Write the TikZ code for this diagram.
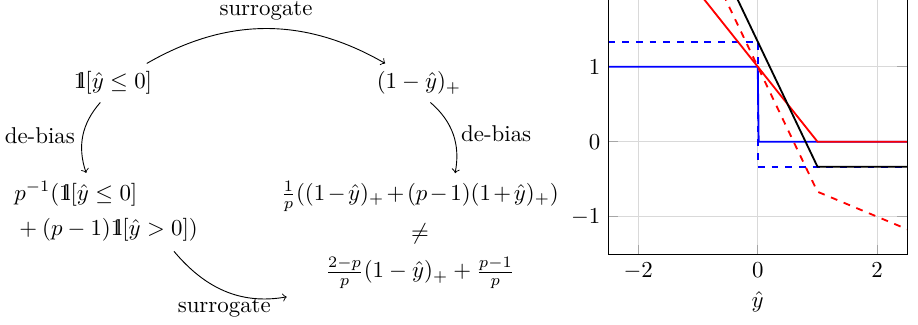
\documentclass[tikz,border=0pt]{standalone}
\usepackage{amsmath}
\usetikzlibrary{positioning}
\newcommand{\indic}{\mathrm{1}\mkern-5mu\mathrm{l}}
\tikzset{
  arr/.style={->, >=to, thin},
  gridline/.style={gray!30, thin},
  tickline/.style={gray!70, thin},
  loss/.style={thick},
}
\begin{document}
\begin{tikzpicture}
  \clip (0,0) rectangle (14.11,4.98);
  % the four losses
  \node (zo) at (1.737,3.705) {$\indic[\hat{y}\leq 0]$};
  \node (hinge) at (6.44,3.705) {$(1-\hat{y})_+$};
  \node (zodb) at (1.63,1.72)
    {$\begin{aligned}&p^{-1}(\indic[\hat{y}\leq 0]\\&+(p-1)\indic[\hat{y}>0])\end{aligned}$};
  \node (hingedb) at (6.455,1.368)
    {$\begin{gathered}
      \medmuskip=2mu \tfrac{1}{p}((1-\hat{y})_+ + (p-1)(1+\hat{y})_+)\\
      \neq\\
      \tfrac{2-p}{p}(1-\hat{y})_+ + \tfrac{p-1}{p}
    \end{gathered}$};
  \draw[arr] (zo) to[bend left=30] node[above]{surrogate} (hinge);
  \draw[arr] (zo) to[bend right=30] node[left]{de-bias} (zodb);
  \draw[arr] (hinge) to[bend left=30] node[right]{de-bias} (hingedb);
  \draw[arr] (zodb.-30) to[out=-50, in=190] node[below]{surrogate} ([xshift=6pt]hingedb.south west);
  % plot
  \begin{scope}[shift={(11.647,2.802)}, x=0.918cm, y=1.153cm]
    \foreach \x in {-2,0,2}
      \draw[gridline] (\x,-1.5) -- (\x,2.5);
    \foreach \y in {-1,0,1,2}
      \draw[gridline] (-2.5,\y) -- (2.5,\y);
    \foreach \x in {-2,0,2} {
      \draw[tickline] (\x,-1.5) -- ++(0,4.25pt);
      \draw[tickline] (\x,2.5) -- ++(0,-4.25pt);
      \node[below] (xt\x) at (\x,-1.5) {$\x$};
    }
    \foreach \y in {-1,0,1,2} {
      \draw[tickline] (-2.5,\y) -- ++(4.25pt,0);
      \draw[tickline] (2.5,\y) -- ++(-4.25pt,0);
      \node[left] (yt\y) at (-2.5,\y) {$\y$};
    }
    \begin{scope}
      \clip (-2.5,-1.5) rectangle (2.5,2.5);
      \draw[loss, blue] (-2.5,1) -- (0,1) -- (0.015,0) -- (2.5,0);
      \draw[loss, blue, dashed] (-2.5,4/3) -- (0,4/3) -- (0,-1/3) -- (2.5,-1/3);
      \draw[loss, red] (-2.5,3.5) -- (1,0) -- (2.5,0);
      \draw[loss, red, dashed] (-2.5,14/3) -- (-1,8/3) -- (1,-2/3) -- (2.5,-7/6);
      \draw[loss, black] (-2.5,5.5) -- (1,-1/3) -- (2.5,-1/3);
    \end{scope}
    \draw (-2.5,-1.5) rectangle (2.5,2.5);
    \node[below=12.7pt] (xlab) at (0,-1.5) {$\hat{y}$};
  \end{scope}
\end{tikzpicture}
\end{document}
